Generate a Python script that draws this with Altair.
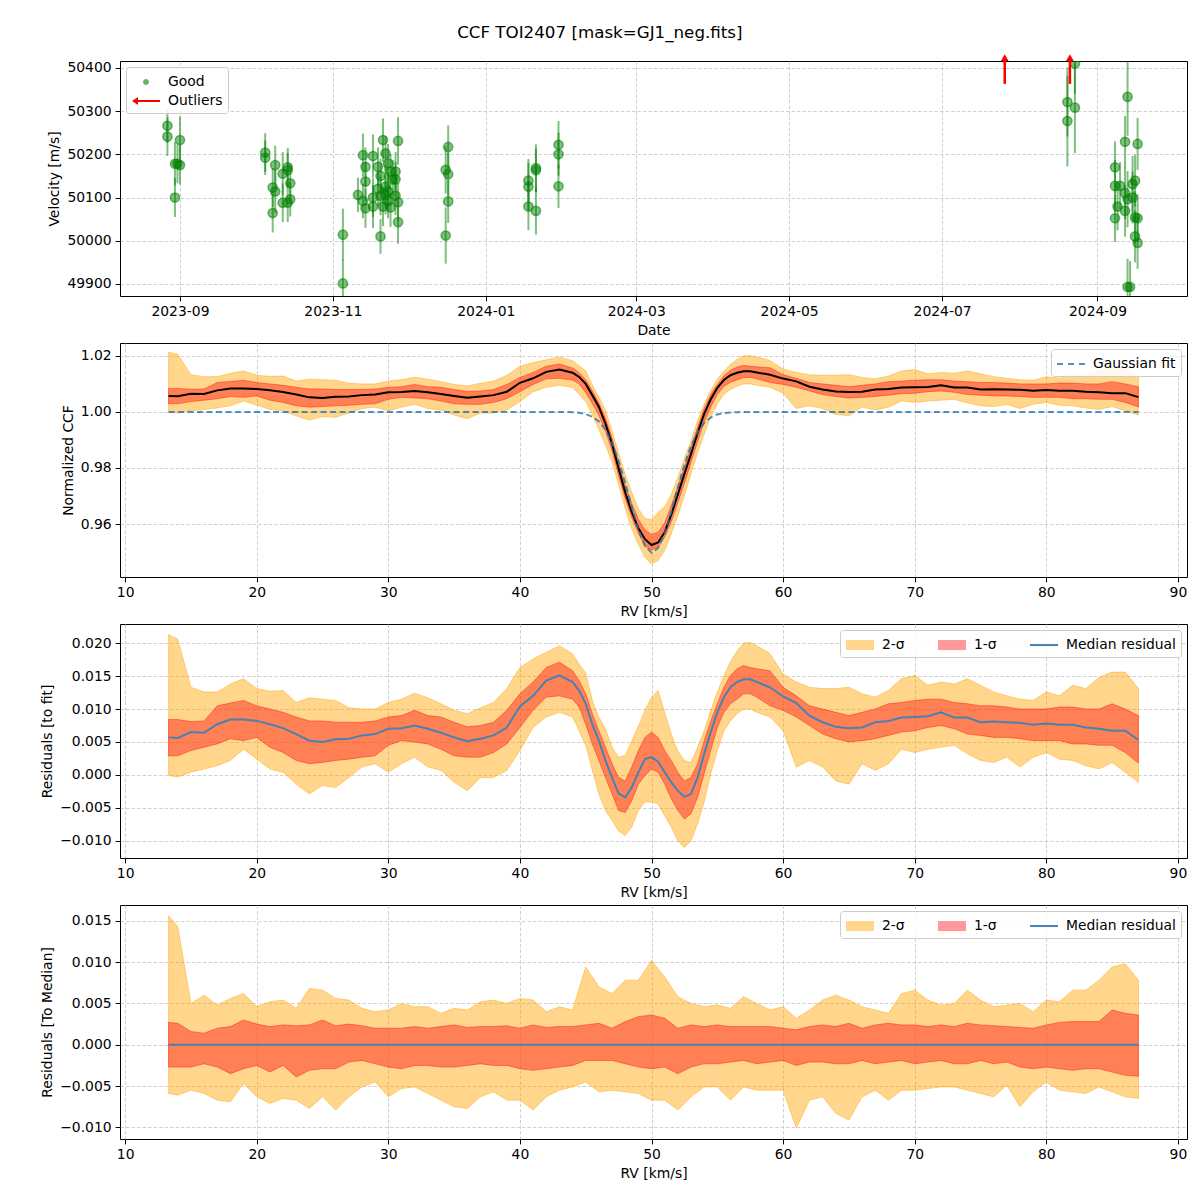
import altair as alt
import pandas as pd

FONT = "DejaVu Sans"
BG = "#fdfbe1"

# ---------------- panel 1: velocities ----------------
good_date = [
    "2023-08-27", "2023-08-27", "2023-08-30", "2023-08-31", "2023-09-01", "2023-08-30", "2023-09-01",
    "2023-10-05", "2023-10-05", "2023-10-08", "2023-10-09", "2023-10-09", "2023-10-08", "2023-10-12",
    "2023-10-14", "2023-10-14", "2023-10-15", "2023-10-12", "2023-10-15", "2023-10-14",
    "2023-11-05", "2023-11-05", "2023-11-11", "2023-11-13", "2023-11-14", "2023-11-14", "2023-11-13",
    "2023-11-14", "2023-11-17", "2023-11-17", "2023-11-17", "2023-11-19", "2023-11-20", "2023-11-20",
    "2023-11-21", "2023-11-20", "2023-11-21", "2023-11-22", "2023-11-23", "2023-11-24", "2023-11-25",
    "2023-11-22", "2023-11-22", "2023-11-23", "2023-11-24", "2023-11-26", "2023-11-26", "2023-11-26",
    "2023-11-27", "2023-11-27", "2023-11-27", "2023-11-19", "2023-11-23",
    "2023-12-17", "2023-12-16", "2023-12-17", "2023-12-17", "2023-12-16",
    "2024-01-18", "2024-01-18", "2024-01-18", "2024-01-21", "2024-01-21", "2024-01-21",
    "2024-01-30", "2024-01-30", "2024-01-30",
    "2024-08-20", "2024-08-20", "2024-08-23", "2024-08-23",
    "2024-09-13", "2024-09-12", "2024-09-17", "2024-09-08", "2024-09-08", "2024-09-10", "2024-09-12",
    "2024-09-13", "2024-09-15", "2024-09-16", "2024-09-09", "2024-09-12", "2024-09-08", "2024-09-16",
    "2024-09-17", "2024-09-16", "2024-09-17", "2024-09-13", "2024-09-14", "2024-09-15",
]
good_v = [
    50266, 50241, 50178, 50178, 50175, 50100, 50233,
    50204, 50192, 50123, 50114, 50175, 50064, 50155,
    50170, 50163, 50133, 50088, 50096, 50088,
    49901, 50014, 50106, 50198, 50171, 50137, 50092,
    50075, 50196, 50100, 50079, 50171, 50150, 50104,
    50079, 50010, 50233, 50202, 50179, 50160, 50142,
    50125, 50106, 50092, 50077, 50160, 50142, 50104,
    50089, 50043, 50231, 50120, 50114,
    50217, 50164, 50154, 50091, 50012,
    50139, 50125, 50079, 50168, 50163, 50069,
    50222, 50200, 50126,
    50321, 50277, 50308, 50410,
    50333, 50229, 50224, 50170, 50127, 50127, 50110,
    50096, 50100, 50139, 50079, 50069, 50052, 50054,
    50052, 50010, 49995, 49893, 49893, 50131,
]
good_err = [
    40, 45, 50, 45, 45, 45, 55,
    45, 40, 45, 50, 45, 45, 50,
    45, 40, 45, 45, 40, 45,
    55, 60, 40, 50, 45, 45, 40,
    45, 50, 45, 50, 45, 40, 45,
    45, 40, 50, 40, 45, 40, 45,
    50, 45, 40, 45, 45, 40, 45,
    45, 50, 55, 40, 45,
    50, 55, 50, 50, 65,
    50, 55, 55, 55, 50, 55,
    55, 50, 50,
    80, 105, 105, 70,
    90, 60, 60, 60, 60, 55, 60,
    65, 60, 60, 55, 60, 55, 60,
    55, 60, 60, 65, 60, 65,
]
out_date = ["2024-07-26", "2024-08-21"]
out_tail = [50363, 50363]
out_head = [50424, 50424]
legend1_labels = ["Good", "Outliers"]

# ---------------- panels 2 & 3: CCF and residuals to the fit ----------------
rv3 = [13.3, 14, 15, 16, 17, 18, 19, 20, 21, 22,
       23, 24, 25, 26, 27, 28, 29, 30, 31, 32,
       33, 34, 35, 36, 37, 38, 39, 40, 41, 42, 43,
       44, 44.5, 45, 45.5, 46, 46.5, 47, 47.5, 48, 48.5,
       49, 49.5, 50, 50.5, 51, 51.5, 52, 52.5, 53, 53.5,
       54, 54.5, 55, 55.5, 56, 56.5, 57, 57.5,
       58, 59, 60, 61, 62, 63, 64, 65, 66, 67,
       68, 69, 70, 71, 72, 73, 74, 75, 76, 77,
       78, 79, 80, 81, 82, 83, 84, 85, 86, 87]
med3 = [0.0057, 0.0056, 0.0065, 0.0064, 0.0077, 0.0084, 0.0084, 0.0082, 0.0077, 0.0071,
        0.0062, 0.0052, 0.0050, 0.0054, 0.0055, 0.0060, 0.0062, 0.0070, 0.0071, 0.0075,
        0.0070, 0.0064, 0.0057, 0.0051, 0.0055, 0.0060, 0.0072, 0.0104, 0.0120, 0.0143, 0.0151,
        0.0141, 0.0128, 0.0108, 0.0077, 0.0052, 0.0022, -0.0004, -0.0028, -0.0034, -0.0019,
        0.0004, 0.0024, 0.0027, 0.0020, 0.0004, -0.0011, -0.0024, -0.0033, -0.0029, -0.0004,
        0.0032, 0.0065, 0.0095, 0.0118, 0.0133, 0.0141, 0.0145, 0.0145,
        0.0141, 0.0133, 0.0119, 0.0109, 0.0090, 0.0080, 0.0073, 0.0071, 0.0072, 0.0080,
        0.0082, 0.0087, 0.0088, 0.0089, 0.0095, 0.0087, 0.0087, 0.0080, 0.0081, 0.0080,
        0.0079, 0.0076, 0.0078, 0.0076, 0.0076, 0.0072, 0.0070, 0.0067, 0.0067, 0.0053]
hi1_3 = [0.0084, 0.0084, 0.0081, 0.0082, 0.0105, 0.0109, 0.0113, 0.0105, 0.0100, 0.0095,
         0.0088, 0.0082, 0.0082, 0.0080, 0.0080, 0.0080, 0.0082, 0.0088, 0.0090, 0.0098,
         0.0090, 0.0088, 0.0080, 0.0073, 0.0075, 0.0080, 0.0098, 0.0123, 0.0141, 0.0163, 0.0171,
         0.0158, 0.0143, 0.0123, 0.0093, 0.0067, 0.0042, 0.0017, -0.0004, -0.0009, 0.0012,
         0.0037, 0.0057, 0.0065, 0.0057, 0.0037, 0.0022, 0.0004, -0.0009, -0.0004, 0.0017,
         0.0052, 0.0082, 0.0108, 0.0133, 0.0151, 0.0161, 0.0166, 0.0163,
         0.0161, 0.0158, 0.0133, 0.0120, 0.0105, 0.0100, 0.0095, 0.0090, 0.0095, 0.0100,
         0.0108, 0.0110, 0.0113, 0.0115, 0.0115, 0.0110, 0.0108, 0.0105, 0.0105, 0.0103,
         0.0100, 0.0100, 0.0100, 0.0103, 0.0103, 0.0100, 0.0100, 0.0108, 0.0100, 0.0090]
lo1_3 = [0.0029, 0.0029, 0.0037, 0.0042, 0.0047, 0.0055, 0.0052, 0.0057, 0.0042, 0.0034,
         0.0022, 0.0017, 0.0019, 0.0022, 0.0024, 0.0027, 0.0029, 0.0045, 0.0052, 0.0050,
         0.0047, 0.0039, 0.0029, 0.0027, 0.0027, 0.0034, 0.0047, 0.0072, 0.0098, 0.0118, 0.0120,
         0.0115, 0.0103, 0.0077, 0.0047, 0.0022, -0.0004, -0.0029, -0.0054, -0.0057, -0.0039,
         -0.0014, -0.0001, 0.0009, 0.0004, -0.0014, -0.0036, -0.0054, -0.0067, -0.0059, -0.0034,
         0.0002, 0.0037, 0.0072, 0.0095, 0.0108, 0.0115, 0.0123, 0.0123,
         0.0118, 0.0105, 0.0098, 0.0088, 0.0075, 0.0062, 0.0055, 0.0050, 0.0052, 0.0055,
         0.0060, 0.0065, 0.0067, 0.0072, 0.0075, 0.0070, 0.0062, 0.0060, 0.0057, 0.0057,
         0.0055, 0.0052, 0.0052, 0.0052, 0.0047, 0.0047, 0.0045, 0.0045, 0.0034, 0.0018]
hi2_3 = [0.0213, 0.0206, 0.0133, 0.0126, 0.0126, 0.0138, 0.0146, 0.0131, 0.0127, 0.0128,
         0.0110, 0.0117, 0.0115, 0.0113, 0.0102, 0.0100, 0.0100, 0.0110, 0.0115, 0.0124,
         0.0117, 0.0108, 0.0098, 0.0093, 0.0102, 0.0110, 0.0131, 0.0163, 0.0176, 0.0186, 0.0196,
         0.0184, 0.0168, 0.0155, 0.0113, 0.0088, 0.0070, 0.0042, 0.0027, 0.0030, 0.0052,
         0.0074, 0.0098, 0.0118, 0.0128, 0.0095, 0.0062, 0.0036, 0.0022, 0.0019, 0.0042,
         0.0067, 0.0098, 0.0126, 0.0150, 0.0172, 0.0188, 0.0200, 0.0201,
         0.0196, 0.0184, 0.0153, 0.0141, 0.0133, 0.0131, 0.0131, 0.0133, 0.0123, 0.0118,
         0.0128, 0.0146, 0.0151, 0.0136, 0.0141, 0.0138, 0.0146, 0.0136, 0.0126, 0.0120,
         0.0115, 0.0113, 0.0126, 0.0120, 0.0136, 0.0131, 0.0148, 0.0156, 0.0156, 0.0131]
lo2_3 = [-0.0001, -0.0003, 0.0004, 0.0009, 0.0014, 0.0022, 0.0039, 0.0024, 0.0009, 0.0004,
         -0.0014, -0.0029, -0.0016, -0.0019, -0.0004, 0.0012, 0.0017, 0.0004, 0.0017, 0.0027,
         0.0012, 0.0007, -0.0011, -0.0024, -0.0004, -0.0004, 0.0007, 0.0037, 0.0072, 0.0088, 0.0095,
         0.0088, 0.0067, 0.0045, 0.0007, -0.0029, -0.0054, -0.0069, -0.0085, -0.0092, -0.0079,
         -0.0054, -0.0041, -0.0041, -0.0044, -0.0062, -0.0079, -0.0100, -0.0110, -0.0100, -0.0074,
         -0.0041, 0.0002, 0.0037, 0.0067, 0.0082, 0.0093, 0.0100, 0.0100,
         0.0095, 0.0088, 0.0067, 0.0012, 0.0022, 0.0012, -0.0009, -0.0014, 0.0017, 0.0007,
         0.0017, 0.0039, 0.0034, 0.0039, 0.0042, 0.0045, 0.0032, 0.0022, 0.0019, 0.0027,
         0.0012, 0.0027, 0.0034, 0.0024, 0.0022, 0.0014, 0.0009, 0.0019, 0.0004, -0.0011]
fit3 = [1.0, 1.0, 1.0, 1.0, 1.0, 1.0, 1.0, 1.0, 1.0, 1.0,
        1.0, 1.0, 1.0, 1.0, 1.0, 1.0, 1.0, 1.0, 1.0, 1.0,
        1.0, 1.0, 1.0, 1.0, 1.0, 1.0, 1.0, 1.0, 1.0, 1.0, 1.0,
        0.9999, 0.9997, 0.9992, 0.9983, 0.9966, 0.9936, 0.9890, 0.9826, 0.9747, 0.9661,
        0.9581, 0.9522, 0.9498, 0.9514, 0.9567, 0.9644, 0.9730, 0.9812, 0.9879, 0.9928,
        0.9961, 0.9980, 0.9991, 0.9996, 0.9998, 0.9999, 1.0, 1.0,
        1.0, 1.0, 1.0, 1.0, 1.0, 1.0, 1.0, 1.0, 1.0, 1.0,
        1.0, 1.0, 1.0, 1.0, 1.0, 1.0, 1.0, 1.0, 1.0, 1.0,
        1.0, 1.0, 1.0, 1.0, 1.0, 1.0, 1.0, 1.0, 1.0, 1.0]

# ---------------- panel 4: residuals to the median ----------------
rv4 = [13.3, 14, 15, 16, 17, 18, 19, 20, 21, 22,
       23, 24, 25, 26, 27, 28, 29, 30, 31, 32,
       33, 34, 35, 36, 37, 38, 39, 40, 41, 42,
       43, 44, 45, 46, 47, 48, 49, 50, 51, 52,
       53, 54, 55, 56, 57, 58, 59, 60, 61, 62,
       63, 64, 65, 66, 67, 68, 69, 70, 71, 72,
       73, 74, 75, 76, 77, 78, 79, 80, 81, 82,
       83, 84, 85, 86, 87]
hi2_4 = [0.0156, 0.0143, 0.0050, 0.0060, 0.0048, 0.0056, 0.0062, 0.0046, 0.0052, 0.0054,
         0.0044, 0.0068, 0.0066, 0.0056, 0.0054, 0.0044, 0.0040, 0.0042, 0.0050, 0.0046,
         0.0046, 0.0038, 0.0044, 0.0042, 0.0052, 0.0054, 0.0050, 0.0056, 0.0054, 0.0040,
         0.0046, 0.0042, 0.0094, 0.0070, 0.0062, 0.0078, 0.0078, 0.0102, 0.0082, 0.0058,
         0.0050, 0.0046, 0.0048, 0.0044, 0.0058, 0.0050, 0.0042, 0.0046, 0.0032, 0.0042,
         0.0054, 0.0060, 0.0054, 0.0046, 0.0042, 0.0038, 0.0062, 0.0066, 0.0054, 0.0048,
         0.0050, 0.0066, 0.0054, 0.0046, 0.0048, 0.0050, 0.0040, 0.0054, 0.0052, 0.0066,
         0.0066, 0.0078, 0.0094, 0.0098, 0.0078]
hi1_4 = [0.0027, 0.0026, 0.0016, 0.0014, 0.0020, 0.0022, 0.0030, 0.0025, 0.0022, 0.0024,
         0.0023, 0.0024, 0.0030, 0.0023, 0.0025, 0.0023, 0.0020, 0.0020, 0.0020, 0.0022,
         0.0020, 0.0022, 0.0024, 0.0021, 0.0022, 0.0022, 0.0023, 0.0020, 0.0024, 0.0021,
         0.0022, 0.0022, 0.0024, 0.0026, 0.0020, 0.0028, 0.0034, 0.0036, 0.0032, 0.0020,
         0.0024, 0.0022, 0.0024, 0.0022, 0.0022, 0.0022, 0.0022, 0.0020, 0.0018, 0.0022,
         0.0024, 0.0022, 0.0026, 0.0020, 0.0024, 0.0026, 0.0024, 0.0024, 0.0022, 0.0024,
         0.0022, 0.0026, 0.0024, 0.0023, 0.0022, 0.0021, 0.0020, 0.0024, 0.0027, 0.0028,
         0.0028, 0.0028, 0.0042, 0.0038, 0.0036]
lo1_4 = [-0.0027, -0.0027, -0.0027, -0.0023, -0.0027, -0.0035, -0.0029, -0.0025, -0.0033, -0.0025,
         -0.0039, -0.0031, -0.0029, -0.0029, -0.0021, -0.0019, -0.0023, -0.0027, -0.0029, -0.0025,
         -0.0025, -0.0027, -0.0027, -0.0025, -0.0023, -0.0025, -0.0025, -0.0029, -0.0031, -0.0029,
         -0.0027, -0.0025, -0.0019, -0.0019, -0.0019, -0.0023, -0.0027, -0.0029, -0.0027, -0.0035,
         -0.0027, -0.0023, -0.0023, -0.0021, -0.0019, -0.0023, -0.0021, -0.0019, -0.0025, -0.0021,
         -0.0021, -0.0023, -0.0023, -0.0019, -0.0023, -0.0021, -0.0019, -0.0023, -0.0021, -0.0019,
         -0.0023, -0.0023, -0.0019, -0.0023, -0.0021, -0.0027, -0.0029, -0.0027, -0.0029, -0.0031,
         -0.0029, -0.0029, -0.0033, -0.0037, -0.0038]
lo2_4 = [-0.0059, -0.0061, -0.0055, -0.0059, -0.0067, -0.0069, -0.0047, -0.0063, -0.0071, -0.0065,
         -0.0067, -0.0077, -0.0063, -0.0079, -0.0063, -0.0051, -0.0045, -0.0063, -0.0053, -0.0051,
         -0.0059, -0.0067, -0.0075, -0.0077, -0.0063, -0.0057, -0.0067, -0.0067, -0.0079, -0.0063,
         -0.0055, -0.0051, -0.0045, -0.0057, -0.0055, -0.0057, -0.0059, -0.0067, -0.0067, -0.0079,
         -0.0063, -0.0051, -0.0051, -0.0067, -0.0051, -0.0055, -0.0055, -0.0055, -0.0101, -0.0067,
         -0.0063, -0.0083, -0.0091, -0.0063, -0.0055, -0.0067, -0.0055, -0.0055, -0.0053, -0.0051,
         -0.0051, -0.0055, -0.0059, -0.0063, -0.0049, -0.0075, -0.0057, -0.0045, -0.0055, -0.0057,
         -0.0059, -0.0051, -0.0057, -0.0063, -0.0065]
med4 = [0.0] * len(rv4)

band_labels = ["2-σ", "1-σ", "Median residual"]
fit_labels = ["Gaussian fit"]

# ---------------- helpers ----------------
W = 1067
ORANGE = "#ffa500"
RED = "#ff0000"
BLUE_LINE = "#4682b4"

RECT = "M-1.4,-0.5H1.4V0.5H-1.4Z"
THIN = "M-1.4,-0.1H1.4V0.1H-1.4Z"
DASHED = "M-1.4,-0.1H-0.8V0.1H-1.4Z M-0.3,-0.1H0.3V0.1H-0.3Z M0.8,-0.1H1.4V0.1H0.8Z"
ARROW = "M-1.4,0L-0.8,-0.4L-0.8,-0.1L1.4,-0.1L1.4,0.1L-0.8,0.1L-0.8,0.4Z"
DOT = "M-0.3,0A0.3,0.3,0,1,0,0.3,0A0.3,0.3,0,1,0,-0.3,0Z"


def legend(orient, direction="vertical"):
    return alt.Legend(
        title=None, orient=orient, direction=direction, offset=6,
        fillColor="rgba(255,255,255,0.85)", strokeColor="#cccccc", cornerRadius=3,
        padding=5, labelFont=FONT, labelFontSize=13.9, labelColor="#000000",
        symbolSize=400, symbolOpacity=1, symbolStrokeWidth=0, symbolOffset=5,
        labelOffset=12, rowPadding=2, columnPadding=32,
    )


def legend_layer(labels, colors, shapes, orient, direction="vertical"):
    df = pd.DataFrame({"label": labels})
    lg = legend(orient, direction)
    return alt.Chart(df).mark_point(filled=True, opacity=0).encode(
        color=alt.Color("label:N", scale=alt.Scale(domain=labels, range=colors), legend=lg),
        shape=alt.Shape("label:N", scale=alt.Scale(domain=labels, range=shapes), legend=lg),
    )


rv_scale = alt.Scale(domain=[9.61, 90.69], nice=False, zero=False)
rv_axis = alt.Axis(values=[10, 20, 30, 40, 50, 60, 70, 80, 90], format="d", title="RV [km/s]")


def xrv():
    return alt.X("rv:Q", scale=rv_scale, axis=rv_axis)


def band_layers(df, ycol_pairs, yscale, yaxis):
    (lo2, hi2), (lo1, hi1) = ycol_pairs
    a2 = alt.Chart(df).mark_area(fill=ORANGE, fillOpacity=0.45, stroke=ORANGE,
                                 strokeOpacity=0.45, strokeWidth=1).encode(
        x=xrv(), y=alt.Y(f"{lo2}:Q", scale=yscale, axis=yaxis), y2=alt.Y2(f"{hi2}:Q"))
    a1 = alt.Chart(df).mark_area(fill=RED, fillOpacity=0.4, stroke=RED,
                                 strokeOpacity=0.4, strokeWidth=1).encode(
        x=xrv(), y=alt.Y(f"{lo1}:Q", scale=yscale, axis=yaxis), y2=alt.Y2(f"{hi1}:Q"))
    return a2, a1


# ---------------- panel 1 ----------------
p1_df = pd.DataFrame({"date": good_date, "v": good_v, "err": good_err})
out_df = pd.DataFrame({"date": out_date, "tail": out_tail, "head": out_head})

date_scale = alt.Scale(type="utc", domain=[
    alt.DateTime(year=2023, month=8, date=8, hours=2, utc=True),
    alt.DateTime(year=2024, month=10, date=6, hours=17, utc=True)])
date_ticks = [alt.DateTime(year=y, month=m, date=1, utc=True)
              for (y, m) in [(2023, 9), (2023, 11), (2024, 1), (2024, 3), (2024, 5), (2024, 7), (2024, 9)]]
xdate = alt.X("date:T", scale=date_scale,
              axis=alt.Axis(values=date_ticks, format="%Y-%m", title="Date"))
v_scale = alt.Scale(domain=[49872, 50416], nice=False, zero=False)
v_axis = alt.Axis(values=[49900, 50000, 50100, 50200, 50300, 50400], format="d",
                  title="Velocity [m/s]")

errbars = alt.Chart(p1_df).transform_calculate(
    lo="datum.v - datum.err", hi="datum.v + datum.err"
).mark_rule(color="green", opacity=0.5, strokeWidth=2, clip=True).encode(
    x=xdate, y=alt.Y("lo:Q", scale=v_scale, axis=v_axis), y2=alt.Y2("hi:Q"))
pts = alt.Chart(p1_df).mark_circle(size=85, fill="green", fillOpacity=0.5, stroke="green",
                                   strokeOpacity=0.55, strokeWidth=1.5, clip=True).encode(
    x=xdate, y=alt.Y("v:Q", scale=v_scale, axis=v_axis))
shaft = alt.Chart(out_df).mark_rule(color="red", strokeWidth=2.5, clip=False).encode(
    x=xdate, y=alt.Y("tail:Q", scale=v_scale, axis=v_axis), y2=alt.Y2("head:Q"))
head = alt.Chart(out_df).mark_point(shape="triangle-up", filled=True, color="red", size=60,
                                    opacity=1, clip=False).encode(
    x=xdate, y=alt.Y("head:Q", scale=v_scale, axis=v_axis))
leg1 = legend_layer(legend1_labels, ["#66b366", "#ff0000"], [DOT, ARROW], "top-left")
p1 = alt.layer(errbars, pts, shaft, head, leg1).properties(width=W, height=235)

# ---------------- panel 2 ----------------
df3 = pd.DataFrame({"rv": rv3, "med": med3, "lo1": lo1_3, "hi1": hi1_3,
                    "lo2": lo2_3, "hi2": hi2_3, "fit": fit3})
# the CCF curves are the Gaussian fit plus the residual readings
for c in ["med", "lo1", "hi1", "lo2", "hi2"]:
    df3["c_" + c] = df3["fit"] + df3[c]

c_scale = alt.Scale(domain=[0.9411, 1.0246], nice=False, zero=False)
c_axis = alt.Axis(values=[0.96, 0.98, 1.00, 1.02], format=".2f", title="Normalized CCF")
a2, a1 = band_layers(df3, [("c_lo2", "c_hi2"), ("c_lo1", "c_hi1")], c_scale, c_axis)
black = alt.Chart(df3).mark_line(color="black", strokeWidth=2).encode(
    x=xrv(), y=alt.Y("c_med:Q", scale=c_scale, axis=c_axis))
fitline = alt.Chart(df3).mark_line(color="#1f77b4", opacity=0.8, strokeWidth=2,
                                   strokeDash=[6, 3.5]).encode(
    x=xrv(), y=alt.Y("fit:Q", scale=c_scale, axis=c_axis))
leg2 = legend_layer(fit_labels, ["#4c92c3"], [DASHED], "top-right")
p2 = alt.layer(a2, a1, black, fitline, leg2).properties(width=W, height=234)

# ---------------- panel 3 ----------------
r_scale = alt.Scale(domain=[-0.0126, 0.0229], nice=False, zero=False)
r_axis = alt.Axis(values=[-0.010, -0.005, 0.0, 0.005, 0.010, 0.015, 0.020], format=".3f",
                  title="Residuals [to fit]")
b2, b1 = band_layers(df3, [("lo2", "hi2"), ("lo1", "hi1")], r_scale, r_axis)
medline3 = alt.Chart(df3).mark_line(color=BLUE_LINE, strokeWidth=2).encode(
    x=xrv(), y=alt.Y("med:Q", scale=r_scale, axis=r_axis))
leg3 = legend_layer(band_labels, ["#ffd68c", "#ff9999", BLUE_LINE], [RECT, RECT, THIN],
                    "top-right", "horizontal")
p3 = alt.layer(b2, b1, medline3, leg3).properties(width=W, height=234)

# ---------------- panel 4 ----------------
df4 = pd.DataFrame({"rv": rv4, "med": med4, "lo1": lo1_4, "hi1": hi1_4,
                    "lo2": lo2_4, "hi2": hi2_4})
m_scale = alt.Scale(domain=[-0.0114, 0.0169], nice=False, zero=False)
m_axis = alt.Axis(values=[-0.010, -0.005, 0.0, 0.005, 0.010, 0.015], format=".3f",
                  title="Residuals [To Median]")
d2, d1 = band_layers(df4, [("lo2", "hi2"), ("lo1", "hi1")], m_scale, m_axis)
medline4 = alt.Chart(df4).mark_line(color=BLUE_LINE, strokeWidth=2).encode(
    x=xrv(), y=alt.Y("med:Q", scale=m_scale, axis=m_axis))
leg4 = legend_layer(band_labels, ["#ffd68c", "#ff9999", BLUE_LINE], [RECT, RECT, THIN],
                    "top-right", "horizontal")
p4 = alt.layer(d2, d1, medline4, leg4).properties(width=W, height=234)

chart = alt.vconcat(p1, p2, p3, p4, spacing=47, bounds="flush").resolve_scale(
    color="independent", shape="independent"
).properties(
    title=alt.TitleParams(text="CCF TOI2407 [mask=GJ1_neg.fits]", font=FONT, fontSize=16.7,
                          fontWeight="normal", color="#000000", anchor="middle", offset=12,
                          dx=-14),
    padding={"left": 40, "right": 12, "top": 24, "bottom": 5},
).configure_view(
    fill=BG, stroke="#000000", strokeWidth=1
).configure_axis(
    labelFont=FONT, labelFontSize=13.9, labelColor="#000000", labelFlush=False,
    titleFont=FONT, titleFontSize=13.9, titleFontWeight="normal", titleColor="#000000",
    tickColor="#000000", tickSize=4.9, tickWidth=1, labelPadding=4, titlePadding=5,
    domain=False, grid=True, gridColor="#c4c4c8", gridDash=[3.5, 2], gridWidth=0.8,
)

chart.save("out.html", embed_options={"renderer": "svg", "actions": False})
